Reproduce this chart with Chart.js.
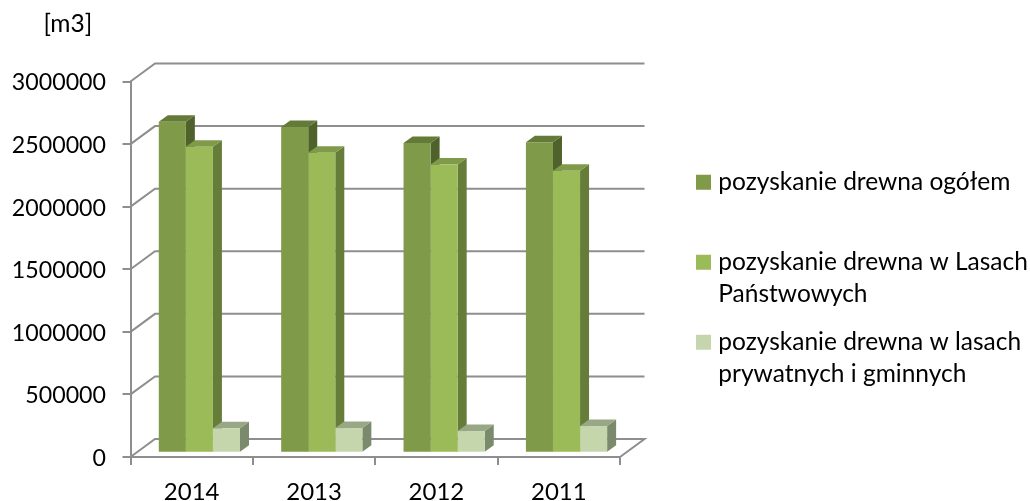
<!DOCTYPE html>
<html><head><meta charset="utf-8">
<style>html,body{margin:0;padding:0;background:#fff}#w{width:1030px;height:501px}</style>
<script src="https://cdn.jsdelivr.net/npm/chart.js@4/dist/chart.umd.min.js"></script>
</head><body><div id="w"><canvas id="c" width="1030" height="501"></canvas></div>
<script>
const years = ['2014','2013','2012','2011'];
const ogolem = [2636000,2594000,2466000,2472000];
const panstwowe = [2437000,2389000,2294000,2245000];
const prywatne = [187000,189000,165000,205000];
const unitLabel = '[m3]';
const seriesNames = [['pozyskanie drewna ogółem'],['pozyskanie drewna w Lasach','Państwowych'],['pozyskanie drewna w lasach','prywatnych i gminnych']];
const frontColors = ['#7f9a48','#9bbb59','#c6d6ac'];
const topColors = ['#647a39','#7f9a48','#98a785'];
const sideColors = ['#50622c','#667d39','#7b8a6c'];
const axisColor = '#8e8e8e';
const FF = 'Lato';
const FS = 24;
const wallDX = 24.5, wallDY = -18, depthX = 9, depthY = -6.5;
const barShiftX = 7.7, barShiftY = 5.3, plotHeight = 375.5;
const barAxisMin = -barShiftY/plotHeight*3000000;

const scene3d = {
  id:'scene3d',
  beforeLayout(chart){
    const lg = chart.legend, f = lg.fit;
    lg.fit = function(){ f.call(this); this.width = 410; };
  },
  afterLayout(chart){
    const b = chart.scales.xBar; b.left += barShiftX; b.right += barShiftX; b.configure();
    chart.legend.left = 700.95 - chart.options.plugins.legend.labels.padding;
    chart.legend.right = 1030;
    chart.legend.top = 154;
    chart.titleBlock.left = 43.5;
  },
  beforeDatasetsDraw(chart){
    const {ctx, scales:{y}, chartArea:a} = chart;
    ctx.save(); ctx.strokeStyle = axisColor; ctx.lineWidth = 2;
    y.ticks.forEach(t=>{
      const p = y.getPixelForValue(t.value);
      ctx.beginPath(); ctx.moveTo(a.left,p); ctx.lineTo(a.left+wallDX,p+wallDY); ctx.lineTo(a.right+wallDX,p+wallDY);
      if(t.value===0) ctx.lineTo(a.right,p);
      ctx.stroke();
    });
    chart.data.datasets.forEach((ds,i)=>{
      chart.getDatasetMeta(i).data.forEach(el=>{
        const {x,y:top,base,width} = el.getProps(['x','y','base','width'],true);
        const l = x-width/2, r = x+width/2;
        ctx.fillStyle = sideColors[i];
        ctx.beginPath(); ctx.moveTo(r,top); ctx.lineTo(r+depthX,top+depthY); ctx.lineTo(r+depthX,base+depthY); ctx.lineTo(r,base); ctx.closePath(); ctx.fill();
        ctx.fillStyle = topColors[i];
        ctx.beginPath(); ctx.moveTo(l,top); ctx.lineTo(l+depthX,top+depthY); ctx.lineTo(r+depthX,top+depthY); ctx.lineTo(r,top); ctx.closePath(); ctx.fill();
      });
    });
    ctx.restore();
  }
};

const mk = (data,i)=>({label:seriesNames[i].join(' '),data,backgroundColor:frontColors[i],borderWidth:0,xAxisID:'xBar',yAxisID:'yBar',clip:false,categoryPercentage:0.6635,barPercentage:1});

new Chart(document.getElementById('c'),{
  type:'bar',
  data:{labels:years,datasets:[mk(ogolem,0),mk(panstwowe,1),mk(prywatne,2)]},
  options:{
    responsive:false,animation:false,
    layout:{autoPadding:false,padding:0},
    plugins:{
      tooltip:{enabled:false},
      title:{display:true,text:unitLabel,align:'start',color:'#000',font:{family:FF,size:24.5,weight:'normal',lineHeight:1.2},padding:{top:9,bottom:43.1}},
      legend:{position:'right',align:'start',labels:{
        padding:16,boxWidth:5.1,boxHeight:5.1,color:'#000',font:{family:FF,size:24.5,lineHeight:32/24.5},
        generateLabels:()=>seriesNames.map((t,i)=>({text:t.length>1?t:[t[0],''],fillStyle:frontColors[i],strokeStyle:frontColors[i],lineWidth:9.9,datasetIndex:i,hidden:false}))
      }}
    },
    scales:{
      x:{type:'category',offset:true,position:'bottom',
        border:{color:axisColor,width:2},
        grid:{offset:true,drawOnChartArea:false,color:axisColor,lineWidth:2,tickLength:8},
        ticks:{color:'#000',font:{family:FF,size:FS},padding:13,maxRotation:0},
        afterFit(s){s.height=44;}},
      y:{type:'linear',position:'left',min:0,max:3000000,
        border:{color:axisColor,width:2},
        grid:{drawOnChartArea:false,color:axisColor,lineWidth:2,tickLength:8},
        ticks:{stepSize:500000,color:'#000',font:{family:FF,size:23.2},padding:16.5,labelOffset:1.5,callback:v=>String(v)},
        afterFit(s){s.width=130.5;}},
      xBar:{type:'category',display:false,offset:true,position:'bottom',grid:{offset:true}},
      yBar:{type:'linear',display:false,position:'left',min:barAxisMin,max:3000000+barAxisMin}
    }
  },
  plugins:[scene3d]
});
</script></body></html>
